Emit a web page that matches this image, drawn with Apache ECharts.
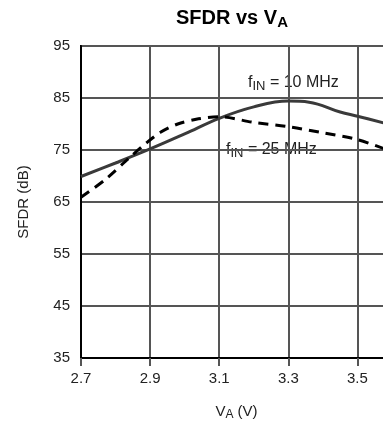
<!DOCTYPE html>
<html>
<head>
<meta charset="utf-8">
<script src="https://cdn.jsdelivr.net/npm/echarts@6/dist/echarts.min.js"></script>
</head>
<body style="margin:0">
	<div id="main" style="width: 383px; height: 422px;"></div>
	<script type="text/javascript">
		// values
		var va10 = [2.7, 2.8, 2.9, 3.0, 3.1, 3.2, 3.3, 3.36, 3.45, 3.5, 3.6];
		var sfdr10 = [69.9, 72.5, 75.2, 78.1, 81.1, 83.3, 84.4, 84.2, 82.3, 81.5, 79.8];
		var va25 = [2.7, 2.77, 2.84, 2.89, 2.93, 2.98, 3.04, 3.1, 3.2, 3.3, 3.4, 3.5, 3.6];
		var sfdr25 = [65.9, 69.3, 73.5, 76.4, 78.4, 80.0, 81.0, 81.4, 80.3, 79.5, 78.3, 77.0, 74.7];
		var xTicks = [2.7, 2.9, 3.1, 3.3, 3.5];
		var yTicks = [35, 45, 55, 65, 75, 85, 95];

		var font = 'Liberation Sans';
		function pairs(xs, ys) {
			var out = [];
			for (var i = 0; i < xs.length; i++) out.push([xs[i], ys[i]]);
			return out;
		}
		// f_IN label with subscript
		function finLabel(text, x, y) {
			return {
				type : 'text',
				left : x,
				top : y,
				style : {
					text : '{a|f}{s|IN}{a| = ' + text + '}',
					rich : {
						a : { fontFamily : font, fontSize : 16, fill : '#222' },
						s : { fontFamily : font, fontSize : 13, fill : '#222', padding : [6, 0, 0, 0] }
					}
				}
			};
		}

		var myChart = echarts.init(document.getElementById('main'));
		var option = {
			animation : false,
			title : {
				text : '{b|SFDR vs V}{s|A}',
				left : 176,
				top : 7,
				padding : [0, 0, 0, 0],
				textStyle : {
					rich : {
						b : { fontFamily : font, fontSize : 20, fontWeight : 'bold', color : '#000' },
						s : { fontFamily : font, fontSize : 15, fontWeight : 'bold', color : '#000', padding : [8, 0, 0, 0] }
					}
				}
			},
			grid : {
				left : 81,
				top : 46,
				width : 311,
				height : 312,
				outerBoundsMode : 'none',
				containLabel : false,
				show : true,
				borderColor : '#000',
				borderWidth : 2
			},
			xAxis : {
				type : 'value',
				min : 2.7,
				max : 3.6,
				interval : 0.2,
				name : '{a|V}{s|A}{a| (V)}',
				nameLocation : 'middle',
				nameGap : 44,
				nameTextStyle : {
					rich : {
						a : { fontFamily : font, fontSize : 15, color : '#222' },
						s : { fontFamily : font, fontSize : 12, color : '#222', padding : [7, 0, 0, 0] }
					}
				},
				axisLine : { lineStyle : { color : '#000', width : 2 } },
				axisTick : { show : true, length : 8, lineStyle : { color : '#555', width : 2 } },
				axisLabel : {
					fontFamily : font, fontSize : 15, color : '#222', margin : 13,
					showMaxLabel : false,
					formatter : function (v) {
						var t = +v.toFixed(1);
						return xTicks.indexOf(t) >= 0 ? t.toFixed(1) : '';
					}
				},
				splitLine : { show : true, lineStyle : { color : '#555', width : 2 } }
			},
			yAxis : {
				type : 'value',
				min : yTicks[0],
				max : yTicks[yTicks.length - 1],
				interval : 10,
				name : 'SFDR (dB)',
				nameLocation : 'middle',
				nameGap : 50,
				nameTextStyle : { fontFamily : font, fontSize : 15, color : '#222' },
				axisLine : { show : true, lineStyle : { color : '#000', width : 2 } },
				axisTick : { show : false },
				axisLabel : { fontFamily : font, fontSize : 15, color : '#222', margin : 11 },
				splitLine : { show : true, lineStyle : { color : '#555', width : 2 } }
			},
			graphic : [ finLabel('10 MHz', 248, 75), finLabel('25 MHz', 226, 142) ],
			series : [ {
				name : 'fIN = 10 MHz',
				type : 'line',
				smooth : 0.4,
				showSymbol : false,
				lineStyle : { color : '#3a3a3a', width : 3 },
				data : pairs(va10, sfdr10)
			}, {
				name : 'fIN = 25 MHz',
				type : 'line',
				smooth : 0.3,
				showSymbol : false,
				lineStyle : { color : '#000', width : 3, type : [10, 7] },
				data : pairs(va25, sfdr25)
			} ]
		};
		myChart.setOption(option);
	</script>
</body>
</html>
